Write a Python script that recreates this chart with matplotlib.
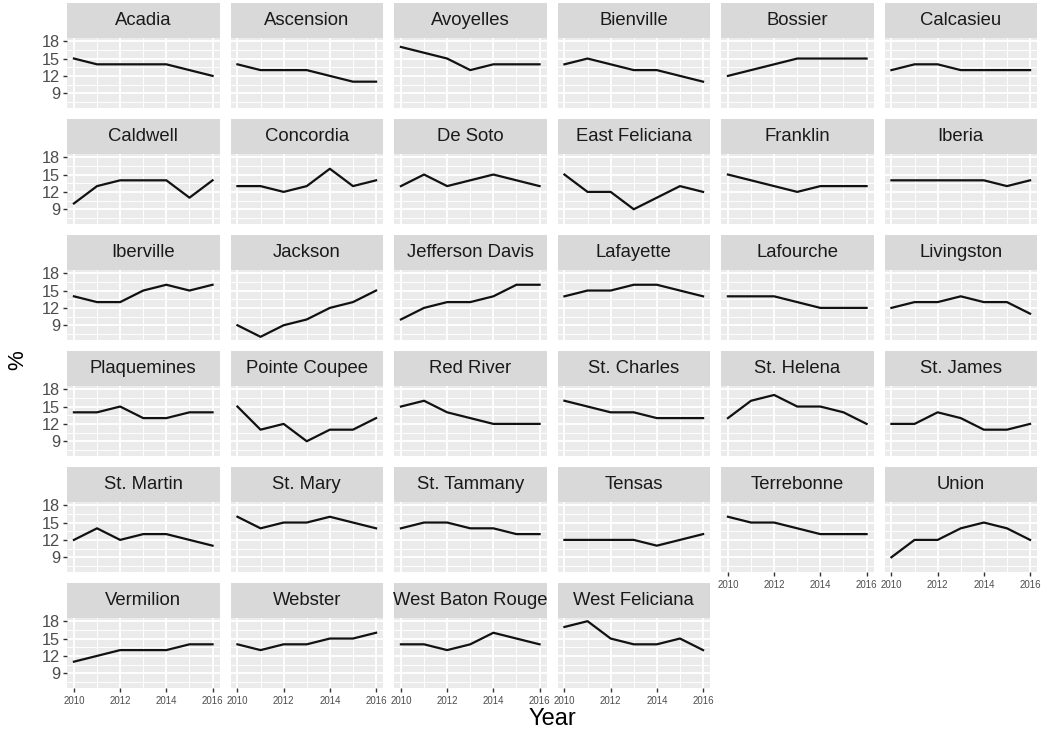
import numpy as np
import matplotlib
matplotlib.use("Agg")
import matplotlib.pyplot as plt
from matplotlib.ticker import MultipleLocator

plt.rcParams['font.family'] = ['Liberation Sans', 'DejaVu Sans']

# --- data: percent by parish, 2010-2016 ---
years = [2010, 2011, 2012, 2013, 2014, 2015, 2016]

parishes = [
    "Acadia", "Ascension", "Avoyelles", "Bienville", "Bossier", "Calcasieu",
    "Caldwell", "Concordia", "De Soto", "East Feliciana", "Franklin", "Iberia",
    "Iberville", "Jackson", "Jefferson Davis", "Lafayette", "Lafourche", "Livingston",
    "Plaquemines", "Pointe Coupee", "Red River", "St. Charles", "St. Helena", "St. James",
    "St. Martin", "St. Mary", "St. Tammany", "Tensas", "Terrebonne", "Union",
    "Vermilion", "Webster", "West Baton Rouge", "West Feliciana",
]

pct = [
    [15, 14, 14, 14, 14, 13, 12],  # Acadia
    [14, 13, 13, 13, 12, 11, 11],  # Ascension
    [17, 16, 15, 13, 14, 14, 14],  # Avoyelles
    [14, 15, 14, 13, 13, 12, 11],  # Bienville
    [12, 13, 14, 15, 15, 15, 15],  # Bossier
    [13, 14, 14, 13, 13, 13, 13],  # Calcasieu
    [10, 13, 14, 14, 14, 11, 14],  # Caldwell
    [13, 13, 12, 13, 16, 13, 14],  # Concordia
    [13, 15, 13, 14, 15, 14, 13],  # De Soto
    [15, 12, 12, 9, 11, 13, 12],   # East Feliciana
    [15, 14, 13, 12, 13, 13, 13],  # Franklin
    [14, 14, 14, 14, 14, 13, 14],  # Iberia
    [14, 13, 13, 15, 16, 15, 16],  # Iberville
    [9, 7, 9, 10, 12, 13, 15],     # Jackson
    [10, 12, 13, 13, 14, 16, 16],  # Jefferson Davis
    [14, 15, 15, 16, 16, 15, 14],  # Lafayette
    [14, 14, 14, 13, 12, 12, 12],  # Lafourche
    [12, 13, 13, 14, 13, 13, 11],  # Livingston
    [14, 14, 15, 13, 13, 14, 14],  # Plaquemines
    [15, 11, 12, 9, 11, 11, 13],   # Pointe Coupee
    [15, 16, 14, 13, 12, 12, 12],  # Red River
    [16, 15, 14, 14, 13, 13, 13],  # St. Charles
    [13, 16, 17, 15, 15, 14, 12],  # St. Helena
    [12, 12, 14, 13, 11, 11, 12],  # St. James
    [12, 14, 12, 13, 13, 12, 11],  # St. Martin
    [16, 14, 15, 15, 16, 15, 14],  # St. Mary
    [14, 15, 15, 14, 14, 13, 13],  # St. Tammany
    [12, 12, 12, 12, 11, 12, 13],  # Tensas
    [16, 15, 15, 14, 13, 13, 13],  # Terrebonne
    [9, 12, 12, 14, 15, 14, 12],   # Union
    [11, 12, 13, 13, 13, 14, 14],  # Vermilion
    [14, 13, 14, 14, 15, 15, 16],  # Webster
    [14, 14, 13, 14, 16, 15, 14],  # West Baton Rouge
    [17, 18, 15, 14, 14, 15, 13],  # West Feliciana
]

x_ticks = [2010, 2012, 2014, 2016]
y_ticks = [9, 12, 15, 18]

# --- layout (pixels) ---
W, H = 1048, 736
ncol, nrow = 6, 6
left, right = 67, 1037
gap_x = 11
pw = (right - left - gap_x * (ncol - 1)) / ncol
top = 3
strip_h, panel_h = 35, 70
pitch_y = 116

fig = plt.figure(figsize=(W / 100, H / 100), dpi=100)

all_vals = np.concatenate([np.array(v) for v in pct])
ylo, yhi = all_vals.min(), all_vals.max()
ypad = (yhi - ylo) * 0.05
xpad = (years[-1] - years[0]) * 0.05

n = len(parishes)
for i, (name, vals) in enumerate(zip(parishes, pct)):
    r, c = divmod(i, ncol)
    x0 = left + c * (pw + gap_x)
    y_strip = top + r * pitch_y
    y_panel = y_strip + strip_h

    # strip
    sax = fig.add_axes([x0 / W, 1 - y_panel / H, pw / W, strip_h / H])
    sax.set_facecolor("#D9D9D9")
    sax.set_xticks([])
    sax.set_yticks([])
    for s in sax.spines.values():
        s.set_visible(False)
    sax.text(0.5, 0.5, name, ha="center", va="center", fontsize=13.3,
             color="#1A1A1A", transform=sax.transAxes)

    # panel
    ax = fig.add_axes([x0 / W, 1 - (y_panel + panel_h) / H, pw / W, panel_h / H])
    ax.set_facecolor("#EBEBEB")
    ax.plot(years, vals, color="#111111", lw=1.6, solid_joinstyle="round", zorder=3)
    ax.set_xlim(years[0] - xpad, years[-1] + xpad)
    ax.set_ylim(ylo - ypad, yhi + ypad)
    ax.set_xticks(x_ticks)
    ax.xaxis.set_minor_locator(MultipleLocator(1))
    ax.set_yticks(y_ticks)
    ax.yaxis.set_minor_locator(MultipleLocator(1.5))
    ax.grid(which="major", color="white", lw=1.3)
    ax.grid(which="minor", color="white", lw=0.65)
    ax.set_axisbelow(True)
    for s in ax.spines.values():
        s.set_visible(False)
    ax.tick_params(which="minor", length=0)

    last_in_col = (i + ncol >= n)
    ax.tick_params(axis="x", which="major", length=3, width=1, color="#333333",
                   labelsize=7, labelcolor="#4D4D4D", pad=3,
                   bottom=last_in_col, labelbottom=last_in_col)
    ax.tick_params(axis="y", which="major", length=3, width=1, color="#333333",
                   labelsize=11.8, labelcolor="#4D4D4D", pad=2,
                   left=(c == 0), labelleft=(c == 0))

fig.text(18 / W, 1 - 360 / H, "%", rotation=90, ha="center", va="center",
         fontsize=16, color="black")
fig.text((left + right) / 2 / W, 1 - 719 / H, "Year", ha="center", va="center",
         fontsize=17, color="black")

fig.savefig("out.png", dpi=100)
